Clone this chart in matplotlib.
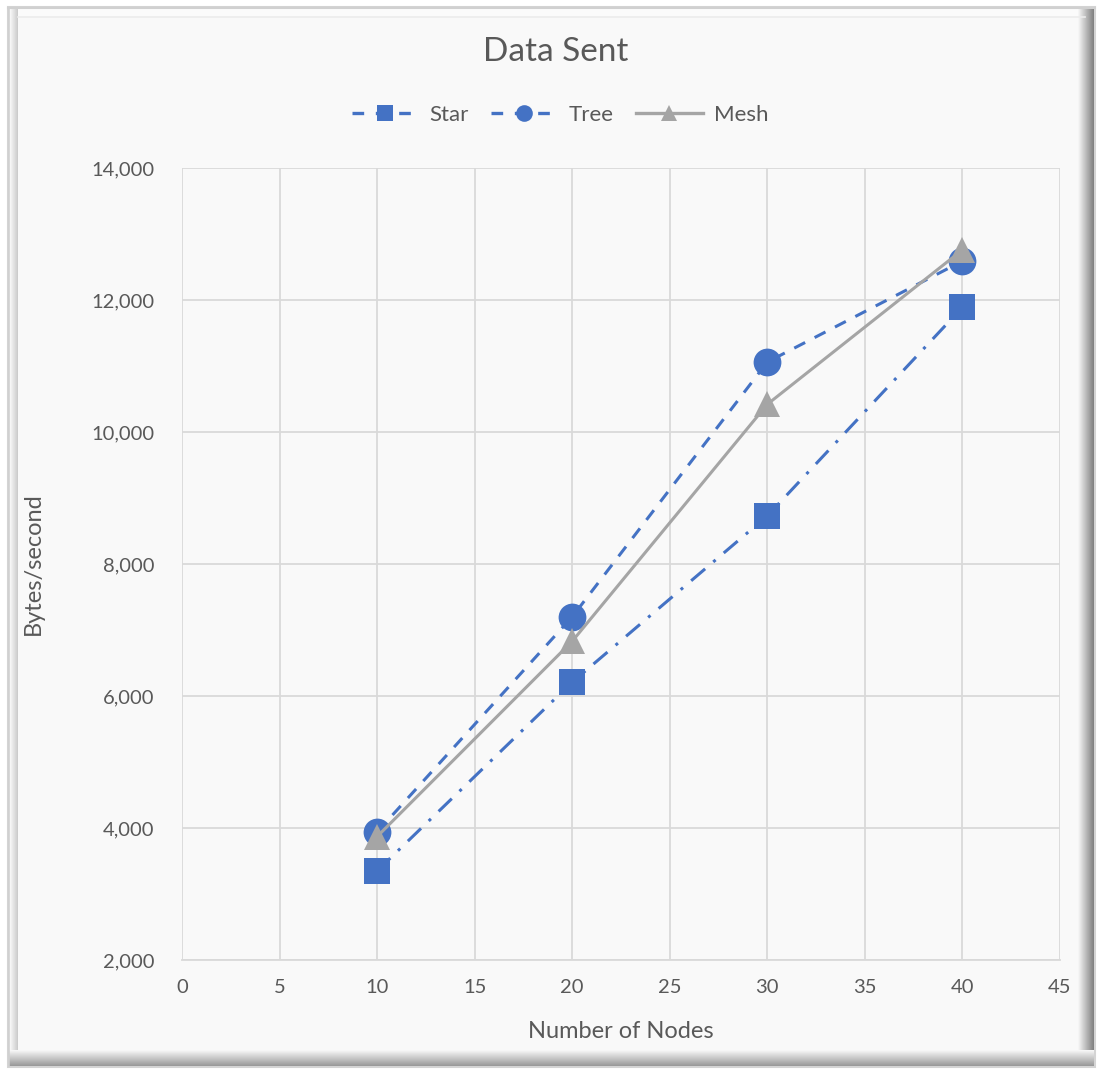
import numpy as np
import matplotlib
matplotlib.use("Agg")
import matplotlib.pyplot as plt
from matplotlib.lines import Line2D

plt.rcParams['font.family'] = ['Lato', 'DejaVu Sans']

nodes = [10, 20, 30, 40]
star = [3350, 6210, 8730, 11890]
tree = [3940, 7200, 11060, 12590]
mesh = [3870, 6830, 10420, 12760]

x_ticks = [0, 5, 10, 15, 20, 25, 30, 35, 40, 45]
y_ticks = [2000, 4000, 6000, 8000, 10000, 12000, 14000]

W, H = 1099, 1071
fig = plt.figure(figsize=(W / 100, H / 100), dpi=100)
fig.patch.set_facecolor('white')

# Bevelled chart frame drawn in pixel coordinates
bg = fig.add_axes([0, 0, 1, 1], zorder=0)
bg.axis('off')
bg.add_patch(plt.Rectangle((8, 7), 1087, 1060, facecolor='#fbfbfb',
                           edgecolor='#d4d4d4', lw=1.5, zorder=1))
bg.add_patch(plt.Rectangle((18, 17), 1067, 1035, facecolor='#f9f9f9',
                           edgecolor='none', zorder=1))
# left light bevel
bg.imshow(np.linspace(0.99, 0.80, 10)[None, :], cmap='gray', vmin=0, vmax=1,
          extent=(9, 18, 1066, 8), aspect='auto', interpolation='bilinear',
          zorder=2)
# right dark bevel
bg.imshow(np.linspace(0.97, 0.50, 30)[None, :], cmap='gray', vmin=0, vmax=1,
          extent=(1078, 1094, 1066, 8), aspect='auto', interpolation='bilinear',
          zorder=2)
# bottom dark bevel
bg.imshow(np.linspace(0.97, 0.60, 30)[:, None], cmap='gray', vmin=0, vmax=1,
          extent=(9, 1094, 1066, 1050), aspect='auto', interpolation='bilinear',
          zorder=2)
bg.plot([18, 1085], [17, 17], color='#ececec', lw=1.2, zorder=3)
bg.plot([9, 9], [8, 1066], color='#d0d0d0', lw=1.2, zorder=3)
bg.plot([8, 1095], [7.5, 7.5], color='#d0d0d0', lw=1.5, zorder=3)
bg.set_xlim(0, W)
bg.set_ylim(H, 0)

ax = fig.add_axes([182 / W, 1 - 960 / H, (1060 - 182) / W, (960 - 168) / H], zorder=2)
ax.set_facecolor('none')
ax.set_xlim(0, 45)
ax.set_ylim(2000, 14000)
ax.set_xticks(x_ticks)
ax.set_yticks(y_ticks)
ax.set_yticklabels([f"{v:,}" for v in y_ticks])
ax.grid(True, color='#d9d9d9', lw=1.3)
ax.set_axisbelow(True)
for s in ['top', 'right', 'left']:
    ax.spines[s].set_visible(False)
ax.spines['bottom'].set_color('#d9d9d9')
ax.spines['bottom'].set_linewidth(1.3)
ax.tick_params(length=0, colors='#595959', labelsize=14.5)
ax.tick_params(axis='x', pad=14)
ax.tick_params(axis='y', pad=20)

blue = '#4472c4'
grey = '#a5a5a5'

ax.plot(nodes, star, color=blue, lw=2.2, linestyle=(0, (6, 3.5, 1, 3.5)),
        marker='s', markersize=19, markeredgewidth=0, zorder=3, label='Star')
ax.plot(nodes, tree, color=blue, lw=2.2, linestyle=(0, (4, 3.5)),
        marker='o', markersize=20, markeredgewidth=0, zorder=3, label='Tree')
ax.plot(nodes, mesh, color=grey, lw=2.2, linestyle='-',
        marker='^', markersize=19, markeredgewidth=0, zorder=4, label='Mesh')

ax.set_xlabel('Number of Nodes', fontsize=17, color='#595959', labelpad=18)
ax.set_ylabel('Bytes/second', fontsize=17, color='#595959', labelpad=34)

fig.text(556 / W, 1 - 52 / H, 'Data Sent', ha='center', va='center',
         fontsize=24, color='#595959')

handles = [
    Line2D([], [], color=blue, lw=2.4, linestyle=(0, (3.5, 3.5)), marker='s',
           markersize=12, markeredgewidth=0),
    Line2D([], [], color=blue, lw=2.4, linestyle=(0, (3.5, 3.5)), marker='o',
           markersize=12, markeredgewidth=0),
    Line2D([], [], color=grey, lw=2.4, marker='^', markersize=12,
           markeredgewidth=0),
]
fig.legend(handles, ['Star', 'Tree', 'Mesh'], loc='center',
           bbox_to_anchor=(560 / W, 1 - 115 / H), ncol=3, frameon=False,
           fontsize=16, labelcolor='#595959', handlelength=3.0,
           columnspacing=1.0, handletextpad=0.5)

fig.savefig('out.png', dpi=100, facecolor='white')
